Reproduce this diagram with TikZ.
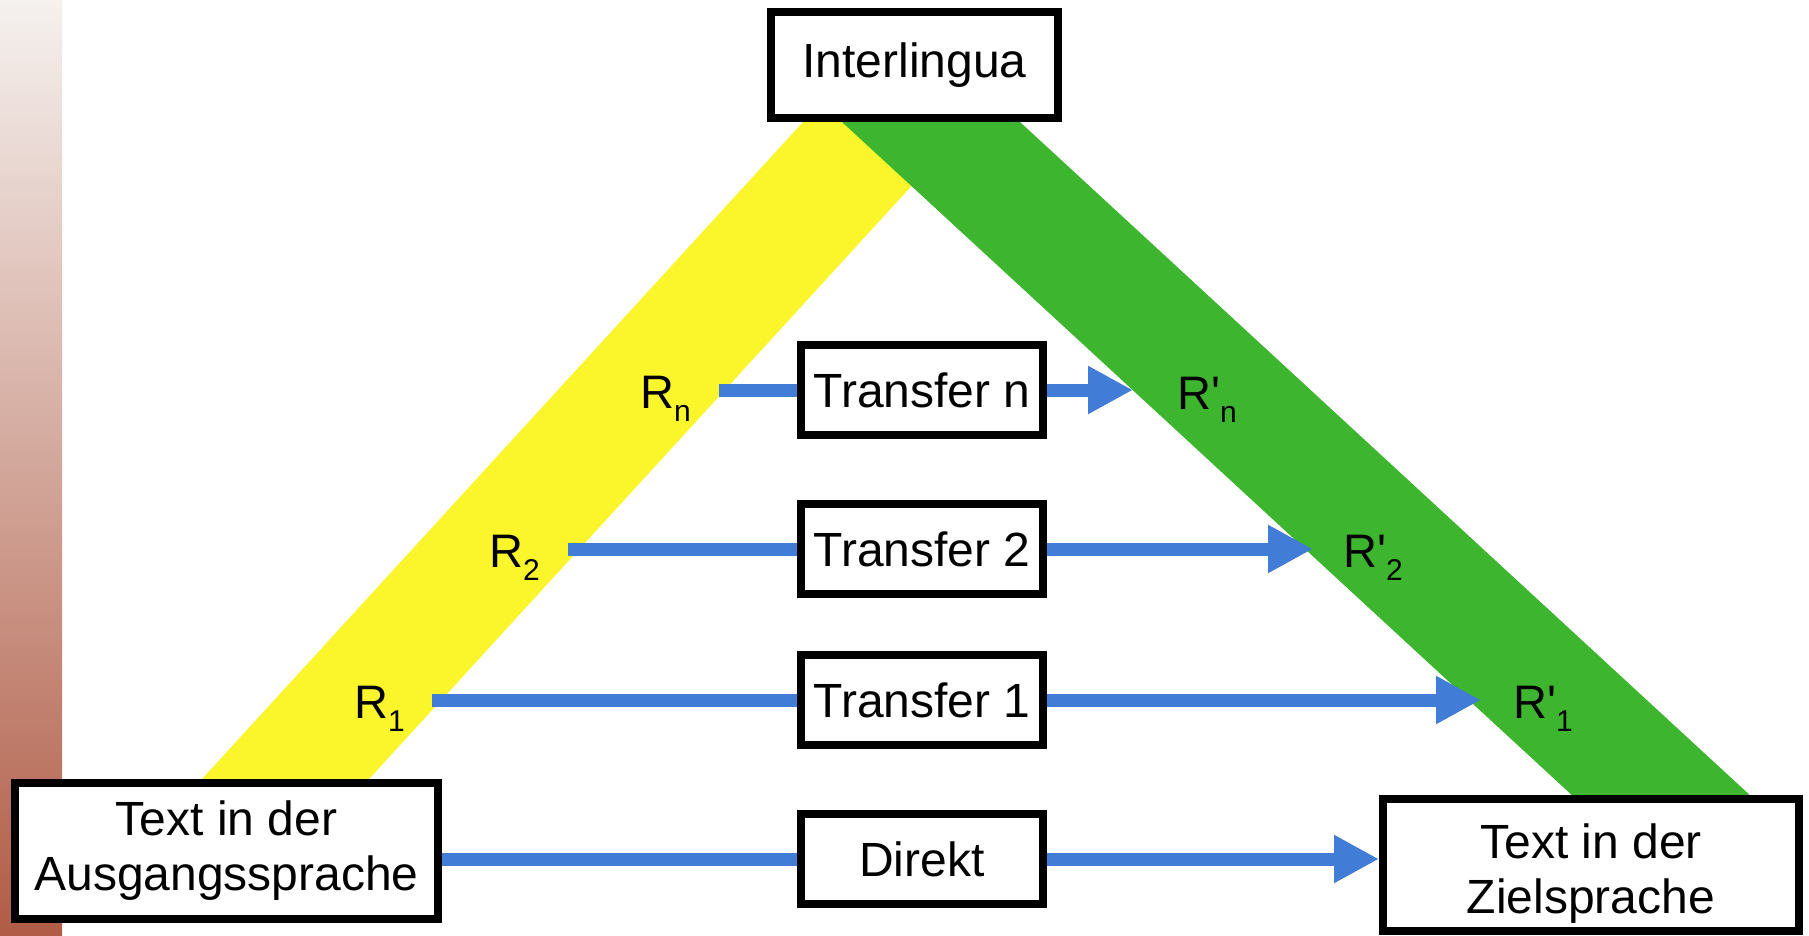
\documentclass[tikz,border=0pt]{standalone}
\usepackage{fontspec}
\setmainfont{Liberation Sans}
\usetikzlibrary{arrows.meta,positioning,backgrounds}
\definecolor{bandyellow}{HTML}{FBF52B}
\definecolor{bandgreen}{HTML}{3DB52E}
\definecolor{linkblue}{HTML}{417DD6}
\definecolor{stripbrown}{HTML}{B05C46}
\definecolor{striplight}{HTML}{F5F1EF}
\newcommand{\idx}[1]{\raisebox{-13pt}{\fontsize{30}{30}\selectfont #1}}
\tikzset{
      box/.style = {draw, line width=8pt, fill=white, inner sep=0pt,
                    font=\fontsize{48}{55}\selectfont, align=center},   % <--- framed boxes
 transfer/.style = {box, minimum width=242pt, minimum height=90pt},
   rlabel/.style = {inner sep=0pt, anchor=base west,
                    font=\fontsize{47}{56}\selectfont},
     link/.style = {draw=linkblue, line width=13pt},
      arr/.style = {link, -{Triangle[length=45pt, width=45pt]}},        % <--- blue arrows
        }

\begin{document}
\begin{tikzpicture}[x=1pt, y=-1pt]
\useasboundingbox (0,0) rectangle (1809,935);
\shade[top color=striplight, bottom color=stripbrown] (0,0) rectangle (62,935);
% boxes
\node[box, minimum width=287pt, minimum height=106pt] (inter) at (914.5,65) {Interlingua};
\node[box, minimum width=423pt, minimum height=136pt] (src) at (226.5,851) {Text in der\\Ausgangssprache};
\node[box, minimum width=416pt, minimum height=132pt, text height=106pt] (tgt) at (1591,865) {Text in der\\Zielsprache};
\node[transfer] (tn) at (922,390) {Transfer n};
\node[transfer] (t2) at (922,549) {Transfer 2};
\node[transfer] (t1) at (922,700) {Transfer 1};
\node[transfer] (direct) at (922,859) {Direkt};
% labels
\node[rlabel] (rn) at (640,408) {R\idx{n}};
\node[rlabel] (r2) at (489,567) {R\idx{2}};
\node[rlabel] (r1) at (354,718) {R\idx{1}};
\node[rlabel] (rnp) at (1177,409) {R\textquotesingle\idx{n}};
\node[rlabel] (r2p) at (1343,567) {R\textquotesingle\idx{2}};
\node[rlabel] (r1p) at (1513,718) {R\textquotesingle\idx{1}};
% free ends
\coordinate (sn) at (719,390);
\coordinate (s2) at (568,549);
\coordinate (s1) at (432,700);
\coordinate (en) at (1133,390);
\coordinate (e2) at (1313,549);
\coordinate (e1) at (1481,700);
\begin{scope}[on background layer]
 \fill[bandyellow] (814,110) -- (981,110) -- (359,790) -- (192,790) -- cycle;
 \fill[bandgreen] (829,110) -- (1007,110) -- (1766,810) -- (1588,810) -- cycle;
 \draw[link] (sn) -- (tn);
 \draw[arr] (tn) -- (en);
 \draw[link] (s2) -- (t2);
 \draw[arr] (t2) -- (e2);
 \draw[link] (s1) -- (t1);
 \draw[arr] (t1) -- (e1);
 \draw[link] (direct -| src.east) -- (direct);
 \draw[arr] (direct) -- (direct -| tgt.west);
\end{scope}
\end{tikzpicture}
\end{document}
